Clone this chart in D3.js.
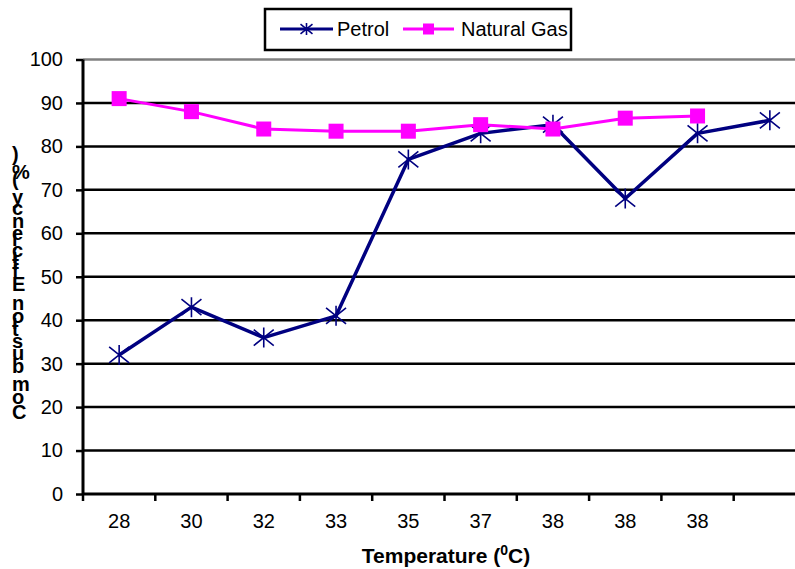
<!DOCTYPE html>
<html>
<head>
<meta charset="utf-8">
<script src="https://cdn.jsdelivr.net/npm/d3@7"></script>
<style>
  html, body { margin: 0; padding: 0; background: #fff; }
  svg { display: block; font-family: "Liberation Sans", Arial, sans-serif; }
</style>
</head>
<body>
<svg id="chart" width="795" height="569"></svg>
<script>
// ---- data ----
const categories = ["28", "30", "32", "33", "35", "37", "38", "38", "38", ""];
const petrol = [32, 43, 36, 41, 77, 83, 85, 68, 83, 86];
const naturalGas = [91, 88, 84, 83.5, 83.5, 85, 84, 86.5, 87];
const yTicks = [0, 10, 20, 30, 40, 50, 60, 70, 80, 90, 100];
const seriesNames = ["Petrol", "Natural Gas"];
const xTitle = "Temperature (";
const yTitle = "Combustion Efficiency (%)";

// ---- layout ----
const svg = d3.select("#chart");
const pLeft = 83, pRight = 806, pTop = 59.5, pBottom = 494;
const idx = categories.map((_, i) => i);

const x = d3.scaleBand().domain(idx).range([pLeft, pRight]).padding(0);
const y = d3.scaleLinear().domain([0, 100]).range([pBottom, pTop]);
const cx = i => x(i) + x.bandwidth() / 2;

// gridlines
svg.append("g").selectAll("line")
  .data(yTicks.filter(v => v > 0))
  .join("line")
  .attr("x1", pLeft).attr("x2", pRight)
  .attr("y1", d => y(d)).attr("y2", d => y(d))
  .attr("stroke", d => d === 100 ? "#808080" : "#000")
  .attr("stroke-width", 2.5);

// y axis
const yAxis = d3.axisLeft(y).tickValues(yTicks).tickSize(7).tickPadding(13);
const gy = svg.append("g").attr("transform", `translate(${pLeft},0)`).call(yAxis);
gy.select(".domain").attr("stroke", "#000").attr("stroke-width", 3)
  .attr("d", `M0,${pTop}V${pBottom}`);
gy.selectAll(".tick line").attr("stroke", "#000").attr("stroke-width", 2.5);
gy.selectAll(".tick text").attr("font-size", 20).attr("fill", "#000")
  .attr("font-family", "Liberation Sans, Arial, sans-serif");

// x axis (labels at category centers)
const xAxis = d3.axisBottom(x).tickFormat(i => categories[i]).tickSize(0).tickPadding(20);
const gx = svg.append("g").attr("transform", `translate(0,${pBottom})`).call(xAxis);
gx.select(".domain").attr("stroke", "#000").attr("stroke-width", 3)
  .attr("d", `M${pLeft},0H${pRight}`);
gx.selectAll(".tick text").attr("font-size", 20).attr("fill", "#000")
  .attr("font-family", "Liberation Sans, Arial, sans-serif");
// category boundary ticks
const bounds = idx.map(i => x(i)).concat([x(idx.length - 1) + x.bandwidth()]);
gx.append("g").selectAll("line")
  .data(bounds)
  .join("line")
  .attr("x1", d => d).attr("x2", d => d)
  .attr("y1", 0).attr("y2", 7)
  .attr("stroke", "#000").attr("stroke-width", 2.5);

// x title
const xt = svg.append("text")
  .attr("x", 446).attr("y", 563)
  .attr("text-anchor", "middle")
  .attr("font-size", 21).attr("font-weight", "bold").attr("fill", "#000");
xt.append("tspan").text(xTitle);
xt.append("tspan").text("0").attr("font-size", 14).attr("dy", -8);
xt.append("tspan").text("C)").attr("dy", 8);

// y title (upright glyphs stacked vertically)
const yLen = 265;
svg.append("text")
  .attr("transform", `translate(12,419) rotate(-90)`)
  .attr("x", 0).attr("y", 0)
  .attr("rotate", 90)
  .attr("textLength", yLen).attr("lengthAdjust", "spacing")
  .attr("font-size", 20).attr("font-weight", "bold").attr("fill", "#000")
  .text(yTitle);

// asterisk marker path
function asterisk(r) {
  const p = d3.path();
  p.moveTo(0, -r); p.lineTo(0, r);
  p.moveTo(-r, -r * 0.8); p.lineTo(r, r * 0.8);
  p.moveTo(-r, r * 0.8); p.lineTo(r, -r * 0.8);
  return p.toString();
}

// Petrol series
const line = d3.line().x(d => cx(d.i)).y(d => y(d.v));
const petrolPts = petrol.map((v, i) => ({ i, v }));
svg.append("path").datum(petrolPts)
  .attr("d", line).attr("fill", "none")
  .attr("stroke", "#000080").attr("stroke-width", 3.5).attr("stroke-linejoin", "round");
svg.append("g").selectAll("path")
  .data(petrolPts).join("path")
  .attr("transform", d => `translate(${cx(d.i)},${y(d.v)})`)
  .attr("d", asterisk(10))
  .attr("stroke", "#000080").attr("stroke-width", 1.6).attr("fill", "none");

// Natural gas series
const ngPts = naturalGas.map((v, i) => ({ i, v }));
svg.append("path").datum(ngPts)
  .attr("d", line).attr("fill", "none")
  .attr("stroke", "#FF00FF").attr("stroke-width", 3).attr("stroke-linejoin", "round");
const sq = 15;
svg.append("g").selectAll("rect")
  .data(ngPts).join("rect")
  .attr("x", d => cx(d.i) - sq / 2).attr("y", d => y(d.v) - sq / 2)
  .attr("width", sq).attr("height", sq)
  .attr("fill", "#FF00FF");

// legend
const lg = svg.append("g");
lg.append("rect").attr("x", 265).attr("y", 9).attr("width", 306).attr("height", 41)
  .attr("fill", "#fff").attr("stroke", "#000").attr("stroke-width", 2.5);
const ly = 29;
lg.append("line").attr("x1", 280).attr("x2", 333).attr("y1", ly).attr("y2", ly)
  .attr("stroke", "#000080").attr("stroke-width", 3);
lg.append("path").attr("transform", `translate(306.5,${ly})`).attr("d", asterisk(6))
  .attr("stroke", "#000080").attr("stroke-width", 1.6).attr("fill", "none");
lg.append("text").attr("x", 337).attr("y", ly + 7).attr("font-size", 20).attr("fill", "#000")
  .text(seriesNames[0]);
lg.append("line").attr("x1", 403).attr("x2", 454).attr("y1", ly).attr("y2", ly)
  .attr("stroke", "#FF00FF").attr("stroke-width", 3);
lg.append("rect").attr("x", 428.5 - 5.5).attr("y", ly - 5.5).attr("width", 11).attr("height", 11)
  .attr("fill", "#FF00FF");
lg.append("text").attr("x", 461).attr("y", ly + 7).attr("font-size", 20).attr("fill", "#000")
  .text(seriesNames[1]);
</script>
</body>
</html>
